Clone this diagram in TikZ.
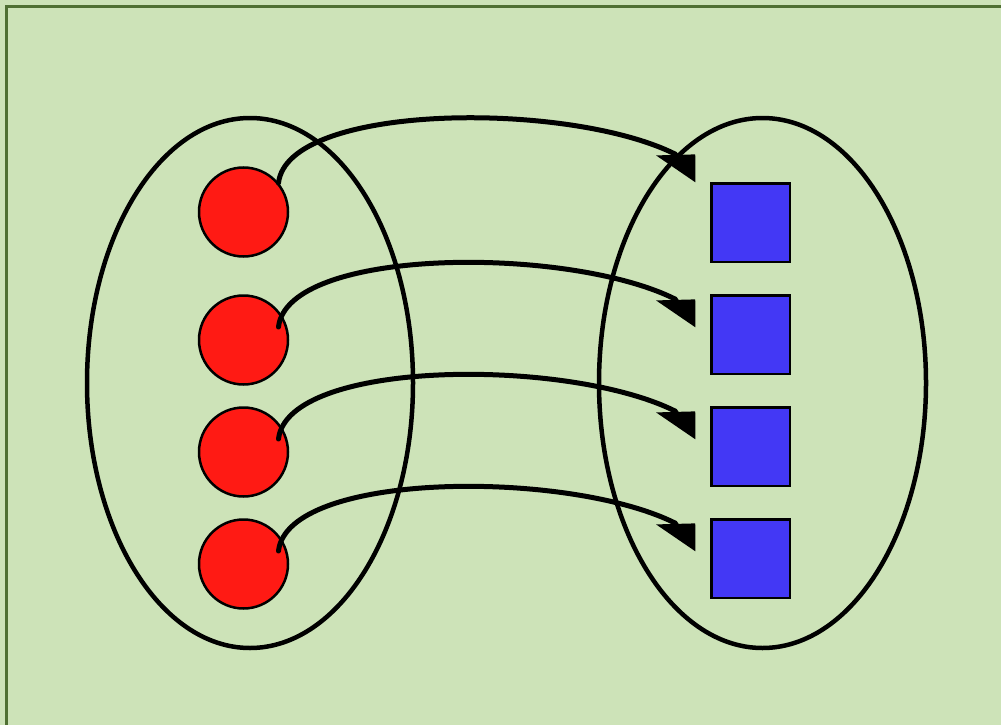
\documentclass[tikz,border=0pt]{standalone}
\usetikzlibrary{arrows.meta,calc}
\definecolor{bgg}{RGB}{205,227,184}
\definecolor{bdg}{RGB}{79,112,51}
\definecolor{redc}{RGB}{255,26,20}
\definecolor{bluec}{RGB}{67,56,245}
\begin{document}
\begin{tikzpicture}[x=1pt,y=-1pt,
  dot/.style={circle,draw=black,fill=redc,line width=2.5pt,minimum size=89pt,inner sep=0pt},
  sq/.style={rectangle,draw=black,fill=bluec,line width=2.5pt,minimum size=78.5pt,inner sep=0pt},
  setell/.style={draw=black,line width=4.5pt},
  conn/.style={draw=black,line width=5pt,line cap=round,-{Triangle[length=34pt,width=31pt,slant=0.68]}}]
\useasboundingbox (0,0) rectangle (1001,725);
\fill[bgg] (0,0) rectangle (1001,725);
\draw[bdg,line width=3.5pt] (6.5,730) -- (6.5,6.5) -- (1010,6.5);
% sets
\draw[setell] (250,383) ellipse [x radius=163, y radius=265];
\draw[setell] (762.5,383) ellipse [x radius=163.5, y radius=265];
% elements
\node[dot] (c1) at (243.5,212) {};
\node[dot] (c2) at (243.5,340) {};
\node[dot] (c3) at (243.5,452) {};
\node[dot] (c4) at (243.5,564) {};
\node[sq] (s1) at (750.5,222.5) {};
\node[sq] (s2) at (750.5,334.5) {};
\node[sq] (s3) at (750.5,446.5) {};
\node[sq] (s4) at (750.5,558.5) {};
% arrow tip points
\coordinate (t1) at ($(s1.north west)+(-14.5,0.5)$);
\coordinate (t2) at ($(s2.north west)+(-14.5,33.5)$);
\coordinate (t3) at ($(s3.north west)+(-14.5,33.5)$);
\coordinate (t4) at ($(s4.north west)+(-14.5,33.5)$);
% mappings
\draw[conn] ($(c1.center)+(35,-29)$) .. controls +(9,-80) and +(-107.5,-53.5) .. ($(t1)+(-20.5,-28.5)$) -- (t1);
\draw[conn] ($(c2.center)+(35,-13)$) .. controls +(9,-80) and +(-107.5,-53.5) .. ($(t2)+(-20.5,-28.5)$) -- (t2);
\draw[conn] ($(c3.center)+(35,-13)$) .. controls +(9,-80) and +(-107.5,-53.5) .. ($(t3)+(-20.5,-28.5)$) -- (t3);
\draw[conn] ($(c4.center)+(35,-13)$) .. controls +(9,-80) and +(-107.5,-53.5) .. ($(t4)+(-20.5,-28.5)$) -- (t4);
\end{tikzpicture}
\end{document}
